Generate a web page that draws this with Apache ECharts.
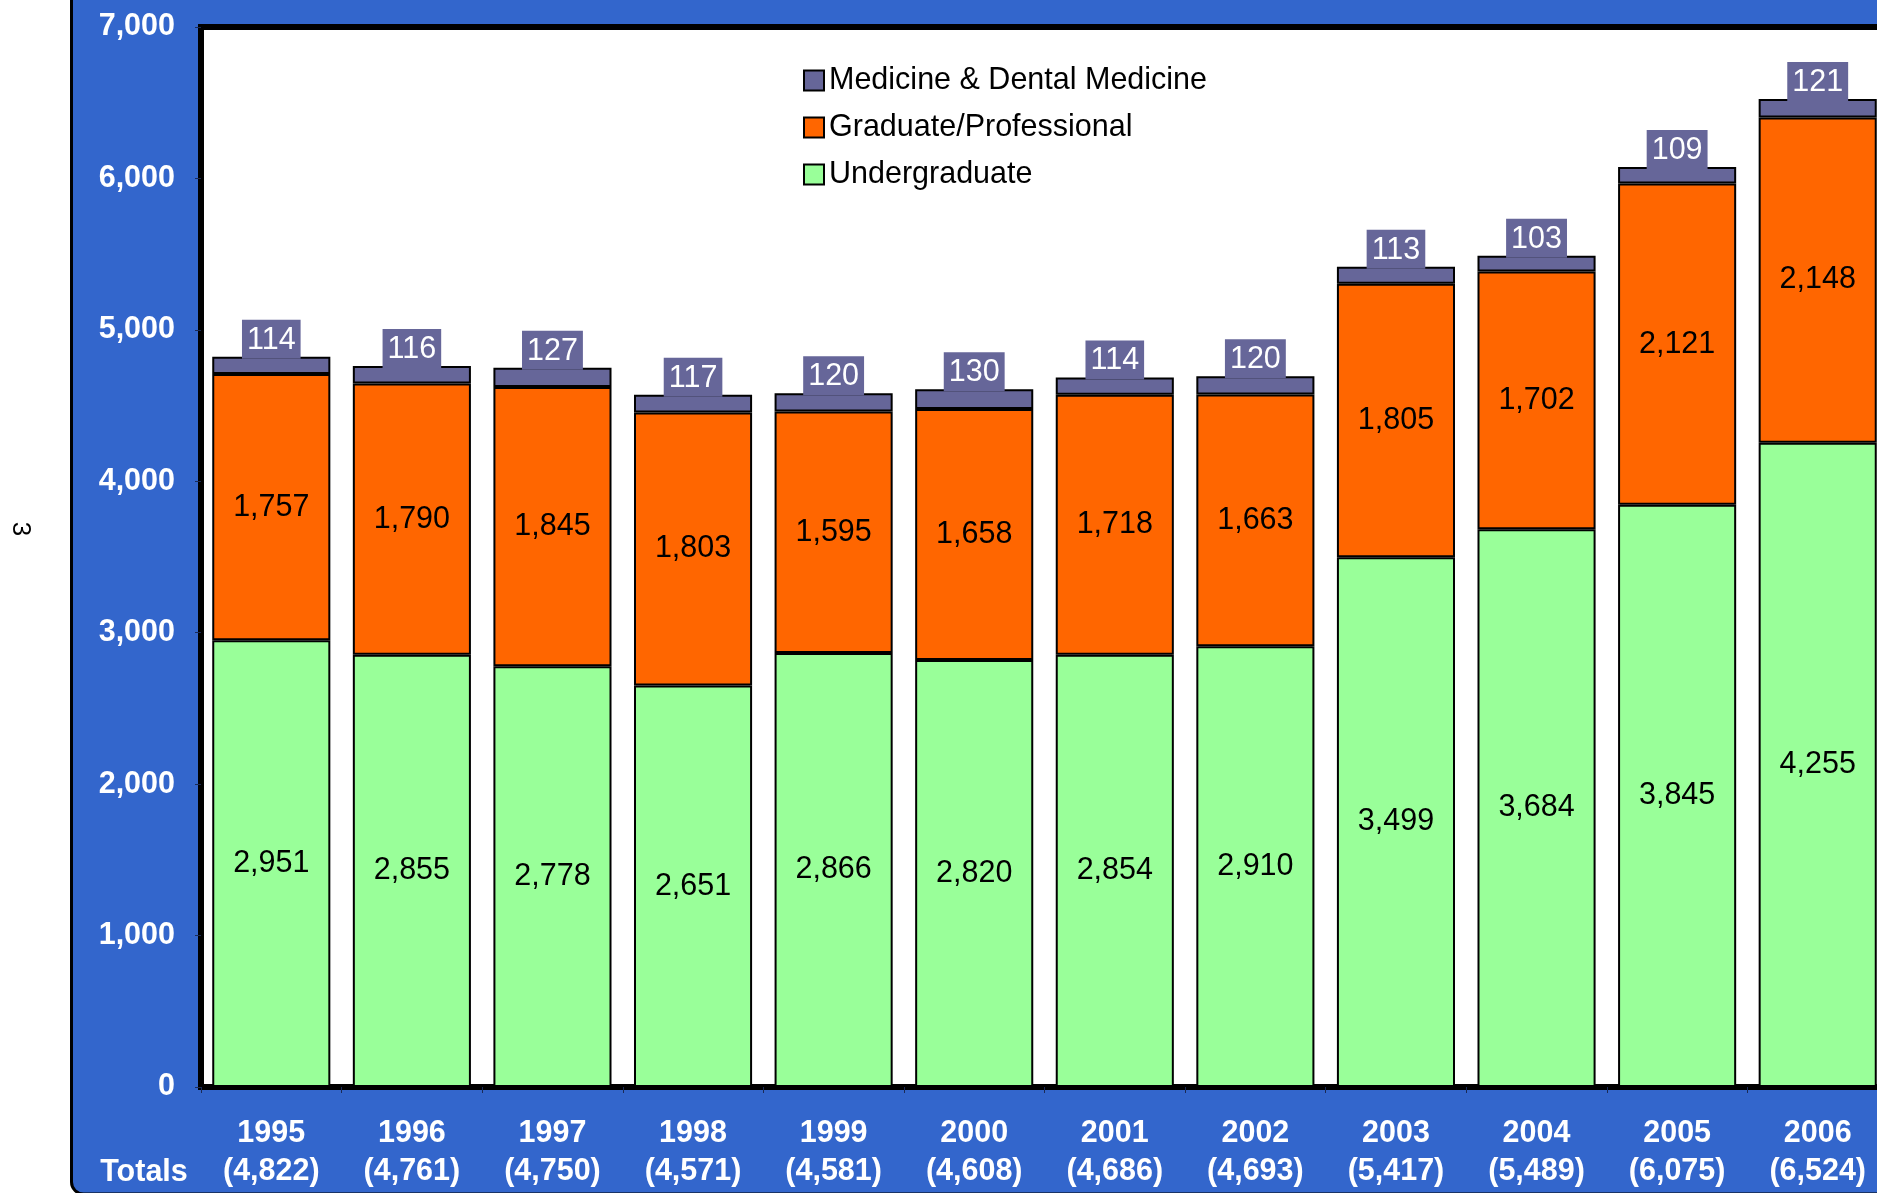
<!DOCTYPE html>
<html>
<head>
<meta charset="utf-8">
<script src="https://cdn.jsdelivr.net/npm/echarts@6/dist/echarts.min.js"></script>
<style>
  html, body { margin: 0; padding: 0; background: #fff; overflow: hidden; }
  /* chart runs past the right edge, like the cropped slide */
  #chart { width: 1900px; height: 1193px; }
</style>
</head>
<body>
<div id="chart"></div>
<script>
// enrolment by year
const years = ['1995', '1996', '1997', '1998', '1999', '2000', '2001', '2002', '2003', '2004', '2005', '2006'];
const undergrad = [2951, 2855, 2778, 2651, 2866, 2820, 2854, 2910, 3499, 3684, 3845, 4255];
const graduate = [1757, 1790, 1845, 1803, 1595, 1658, 1718, 1663, 1805, 1702, 2121, 2148];
const medicine = [114, 116, 127, 117, 120, 130, 114, 120, 113, 103, 109, 121];
const seriesNames = ['Undergraduate', 'Graduate/Professional', 'Medicine & Dental Medicine'];

const FONT = 'Liberation Sans, Arial, sans-serif';
const FS = 30.5;
const fmt = v => Number(v).toLocaleString('en-US');
const totals = years.map((y, i) => undergrad[i] + graduate[i] + medicine[i]);

const chart = echarts.init(document.getElementById('chart'));

const insideLabel = {
  show: true,
  position: 'inside',
  color: '#000',
  fontFamily: FONT,
  fontSize: FS,
  formatter: p => fmt(p.value)
};

const option = {
  animation: false,
  textStyle: { fontFamily: FONT },
  graphic: [
    {
      type: 'rect', z: -10,
      shape: { x: 71.5, y: -20, width: 1900, height: 1214, r: 12 },
      style: { fill: '#3366CC', stroke: '#000', lineWidth: 3 }
    },
    {
      type: 'text', z: 100, x: 20, y: 529, rotation: -Math.PI / 2,
      style: { text: '3', fontSize: 26, fontFamily: FONT, fill: '#000', align: 'center', verticalAlign: 'middle' }
    },
    {
      type: 'text', z: 100, x: 144, y: 1173,
      style: { text: 'Totals', fontSize: FS, fontWeight: 'bold', fontFamily: FONT, fill: '#fff', align: 'center', verticalAlign: 'middle' }
    }
  ],
  grid: {
    left: 201, right: 12, top: 27, bottom: 106,
    show: true,
    backgroundColor: '#fff',
    borderColor: '#000',
    borderWidth: 6
  },
  legend: {
    orient: 'vertical',
    left: 798, top: 60,
    data: ['Medicine & Dental Medicine', 'Graduate/Professional', 'Undergraduate'],
    icon: 'rect',
    itemWidth: 20, itemHeight: 20, itemGap: 16,
    textStyle: { fontSize: FS, color: '#000', fontFamily: FONT, lineHeight: 31 },
    itemStyle: { borderColor: '#000', borderWidth: 2 }
  },
  xAxis: {
    type: 'category',
    data: years,
    axisLine: { show: true, lineStyle: { color: '#000', width: 5 } },
    axisTick: { show: true, length: 6, lineStyle: { color: '#1a2a55', width: 1 } },
    axisLabel: {
      interval: 0,
      margin: 28,
      formatter: (v, i) => '{y|' + v + '}\n{t|(' + fmt(totals[i]) + ')}',
      rich: {
        y: { color: '#fff', fontWeight: 'bold', fontSize: FS, lineHeight: 38, fontFamily: FONT },
        t: { color: '#fff', fontWeight: 'bold', fontSize: FS, lineHeight: 38, fontFamily: FONT }
      }
    }
  },
  yAxis: {
    type: 'value',
    min: 0, max: 7000, interval: 1000,
    axisLine: { show: true, lineStyle: { color: '#000', width: 6 } },
    axisTick: { show: true, length: 6, lineStyle: { color: '#1a2a55', width: 1 } },
    splitLine: { show: false },
    axisLabel: {
      color: '#fff', fontWeight: 'bold', fontSize: FS, margin: 26, fontFamily: FONT,
      formatter: v => fmt(v)
    }
  },
  series: [
    {
      name: seriesNames[0], type: 'bar', stack: 'total', barWidth: '84%',
      data: undergrad,
      itemStyle: { color: '#99FF99', borderColor: '#000', borderWidth: 2 },
      label: insideLabel
    },
    {
      name: seriesNames[1], type: 'bar', stack: 'total',
      data: graduate,
      itemStyle: { color: '#FF6600', borderColor: '#000', borderWidth: 2 },
      label: insideLabel
    },
    {
      name: seriesNames[2], type: 'bar', stack: 'total',
      data: medicine,
      itemStyle: { color: '#666699', borderColor: '#000', borderWidth: 2 },
      label: {
        show: true,
        position: 'top',
        distance: -2,
        color: '#fff',
        fontSize: FS,
        fontFamily: FONT,
        lineHeight: 31,
        backgroundColor: '#666699',
        padding: [5, 5, 3, 5],
        formatter: p => fmt(p.value)
      }
    }
  ]
};

chart.setOption(option);
</script>
</body>
</html>
